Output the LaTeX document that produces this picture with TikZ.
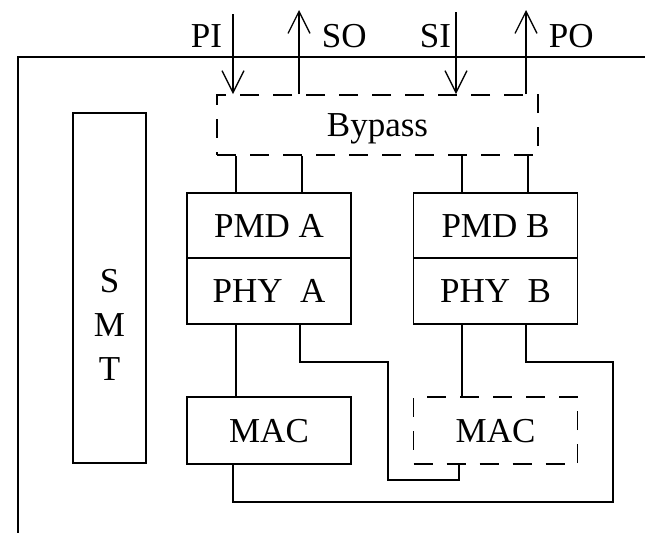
\documentclass[tikz,border=0pt]{standalone}
\usepackage{fontspec}
\setmainfont{Liberation Serif}
\usetikzlibrary{arrows.meta}

\begin{document}
\begin{tikzpicture}[x=1pt,y=-1pt,line width=1.8pt,
  >={Straight Barb[length=22pt,width=22pt,line width=1.3pt]},
  box/.style={draw,minimum width=164pt,minimum height=66pt,inner sep=0pt,font=\fontsize{35}{44}\selectfont,text height=23pt,text depth=0pt},
  dbox/.style={box,dash pattern=on 19pt off 14pt},
  lbl/.style={inner sep=0pt,font=\fontsize{35}{44}\selectfont,text height=23pt,text depth=0pt}]
\useasboundingbox (0,0) rectangle (645,533);
% frame
\draw (645,57) -- (18,57) -- (18,533);
% boxes
\node[box,minimum width=73pt,minimum height=350pt] (smt) at (109.5,288) {};
\node[inner sep=0pt,font=\fontsize{35}{44}\selectfont,align=center] (smtlbl) at (109.5,325) {S\\M\\T};
\node[dbox,minimum width=321pt,minimum height=60pt] (bypass) at (377.5,125) {Bypass};
\node[box,minimum height=65pt] (pmdA) at (269,225.5) {PMD~A};
\node[box] (phyA) at (269,291) {PHY~~A};
\node[box,minimum height=65pt] (pmdB) at (495.5,225.5) {PMD~B};
\node[box] (phyB) at (495.5,291) {PHY~~B};
\node[box,minimum height=67pt] (macA) at (269,430.5) {MAC};
\node[dbox,minimum height=67pt] (macB) at (495.5,430.5) {MAC};
% ports
\coordinate (pi) at (233,14);
\coordinate (so) at (299,10);
\coordinate (si) at (456,12);
\coordinate (po) at (526,10);
\draw[->] (pi) -- (pi |- bypass.north);
\draw[->] (so |- bypass.north) -- (so);
\draw[->] (si) -- (si |- bypass.north);
\draw[->] (po |- bypass.north) -- (po);
\node[lbl,anchor=east] (pilbl) at (223,35.5) {PI};
\node[lbl,anchor=west] (solbl) at (321,35.5) {SO};
\node[lbl,anchor=east] (silbl) at (452,35.5) {SI};
\node[lbl,anchor=west] (polbl) at (548,35.5) {PO};
% bypass to pmd
\coordinate (a1) at (236,0);
\coordinate (a2) at (302,0);
\coordinate (b1) at (462,0);
\coordinate (b2) at (528,0);
\draw (a1 |- bypass.south) -- (a1 |- pmdA.north);
\draw (a2 |- bypass.south) -- (a2 |- pmdA.north);
\draw (b1 |- bypass.south) -- (b1 |- pmdB.north);
\draw (b2 |- bypass.south) -- (b2 |- pmdB.north);
% phy to mac
\coordinate (a3) at (236,0);
\coordinate (a4) at (300,0);
\coordinate (b3) at (462,0);
\coordinate (b4) at (526,0);
\coordinate (j1) at (388,362);
\coordinate (j2) at (459,480);
\coordinate (j3) at (613,362);
\coordinate (j4) at (233,502);
\draw (a3 |- phyA.south) -- (a3 |- macA.north);
\draw (b3 |- phyB.south) -- (b3 |- macB.north);
\draw (a4 |- phyA.south) |- (j1) |- (j2) -- (j2 |- macB.south);
\draw (b4 |- phyB.south) |- (j3) |- (j4) -- (j4 |- macA.south);
\end{tikzpicture}
\end{document}
